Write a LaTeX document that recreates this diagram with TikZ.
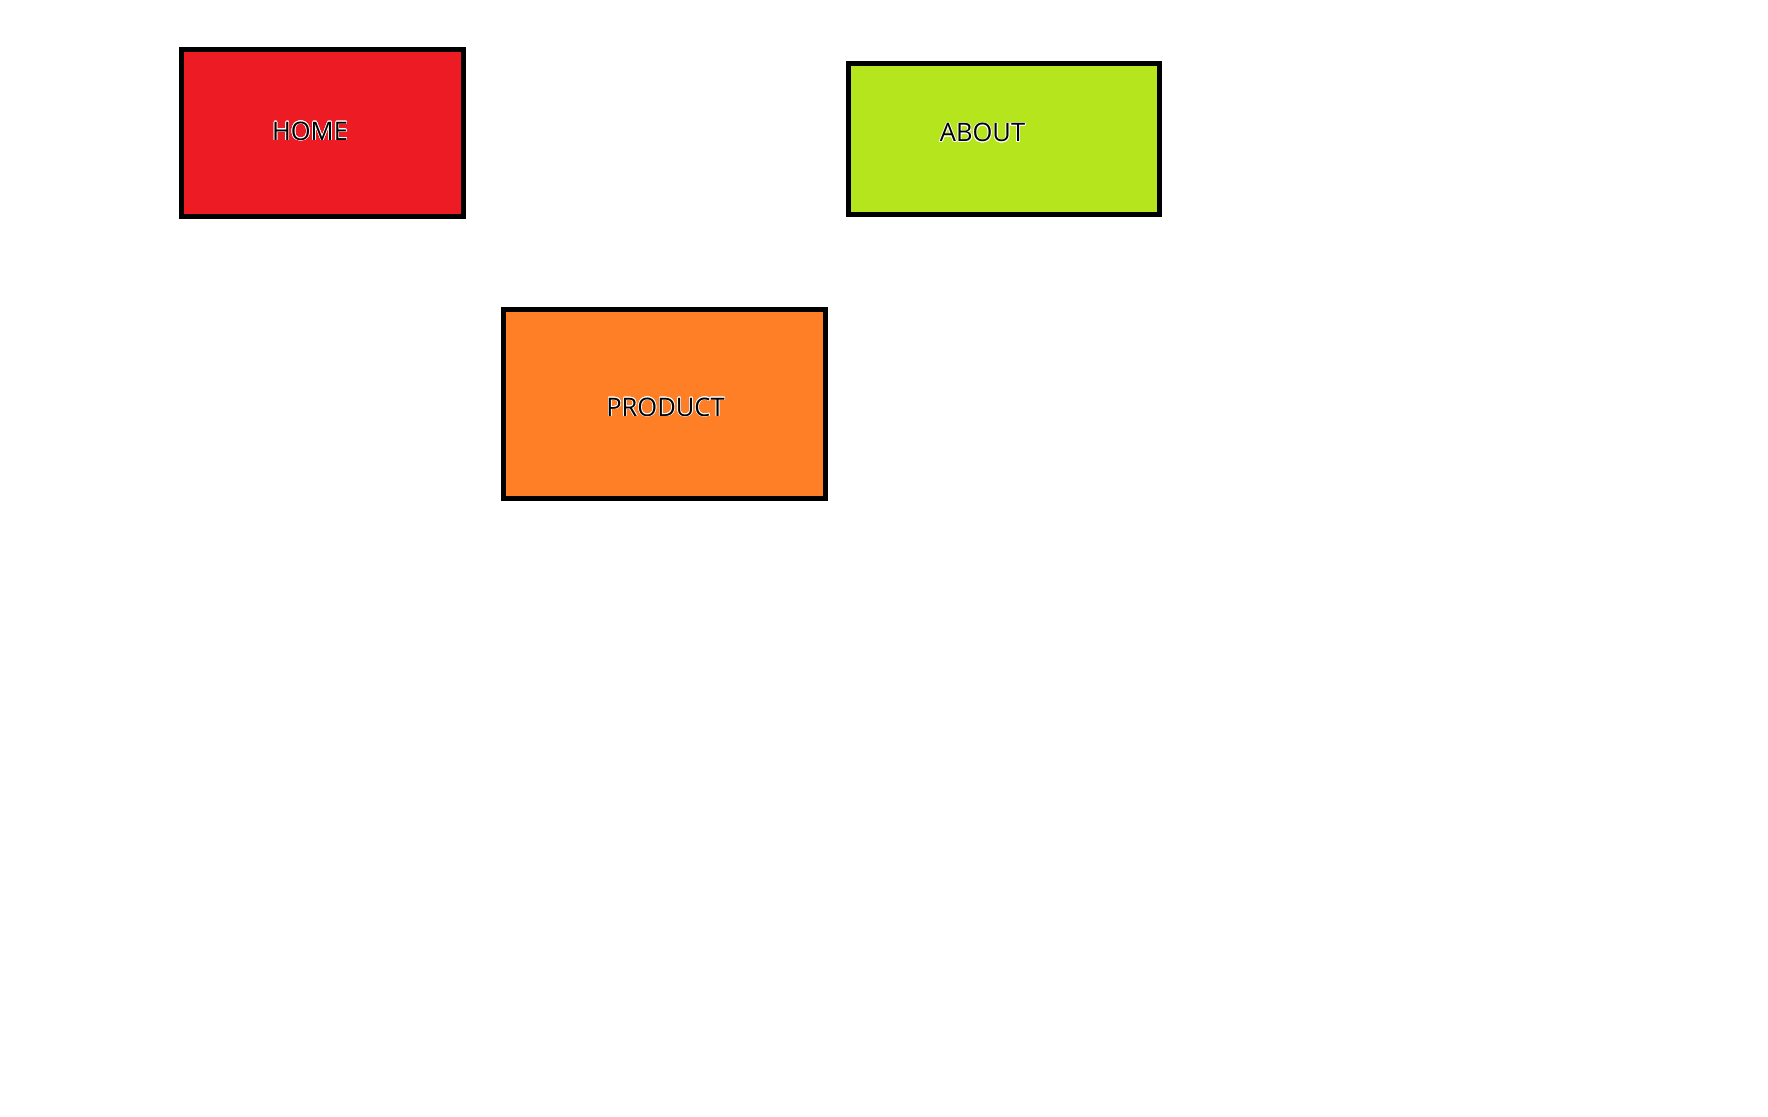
\documentclass[tikz,border=0pt]{standalone}
\usepackage{fontspec}
\setmainfont{Open Sans}
\usepackage[copies]{contour}
\contourlength{0.7pt}
\usetikzlibrary{positioning}
\definecolor{page-red}{HTML}{ED1C24}
\definecolor{page-green}{HTML}{B5E61D}
\definecolor{page-orange}{HTML}{FF7F27}
\colorlet{pagetext}{black}
\tikzset{
  pagebox/.style={draw=black,line width=5pt,rectangle,inner sep=0pt},
  pagelabel/.style={font=\fontsize{25.5}{30}\selectfont,text=pagetext,inner sep=0pt}
}
\begin{document}
\begin{tikzpicture}[x=1pt,y=-1pt]
\useasboundingbox (0,0) rectangle (1768,1116);
% page boxes
\node[pagebox,fill=page-red,minimum width=282pt,minimum height=167pt] (home) at (322.5,133) {};
\node[pagebox,fill=page-green,minimum width=311pt,minimum height=151pt] (about) at (1004,139) {};
\node[pagebox,fill=page-orange,minimum width=322pt,minimum height=189pt] (product) at (664.5,404) {};
% labels
\node[pagelabel] (homelabel) at (310,131.5) {\contour{white}{HOME}};
\node[pagelabel] (aboutlabel) at (982.5,133) {\contour{white}{ABOUT}};
\node[pagelabel] (productlabel) at (665.5,407.5) {\contour{white}{PRODUCT}};
\end{tikzpicture}
\end{document}
